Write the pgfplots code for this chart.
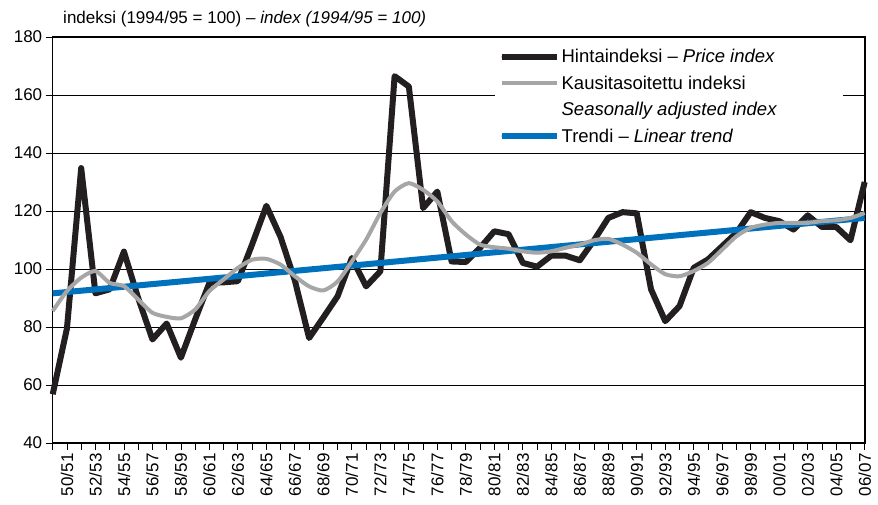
\documentclass[border=0pt]{standalone}
\usepackage{fontspec}
\setmainfont{Liberation Sans}
\usepackage{pgfplots}
\pgfplotsset{compat=1.18}
\definecolor{cblack}{HTML}{231F20}
\definecolor{cgray}{HTML}{A6A6A6}
\definecolor{cblue}{HTML}{0071BC}
\newcommand{\fs}{\fontsize{17}{20}\selectfont}
\newcommand{\fl}{\fontsize{18.5}{21.5}\selectfont}
\pgfplotstableread{
i price sa
0 56.8 85.5
1 79.5 92.4
2 134.8 97
3 91.6 99.3
4 93 95.2
5 106 94.1
6 90 89.5
7 75.7 84.9
8 81.2 83.5
9 69.4 83
10 82.6 86
11 95.2 92.4
12 95.4 96.4
13 95.8 100.4
14 108.5 103.2
15 121.8 103.5
16 111 101.5
17 96 97.5
18 76.2 94
19 83.3 92.6
20 90.6 95.7
21 103.8 102.6
22 94 110.1
23 99.2 119.3
24 166.5 126.7
25 162.9 129.6
26 121 127.3
27 126.7 123.3
28 102.6 116.5
29 102.4 111.9
30 107.3 108.4
31 113 107.5
32 112 107
33 102.1 106.1
34 100.8 105.6
35 104.6 106.1
36 104.6 107.3
37 103 108.4
38 109.9 109.9
39 117.6 110.4
40 119.6 108.4
41 119.2 105.6
42 93 101.6
43 82 98.2
44 87.2 97.5
45 100.4 99.3
46 103.3 102.1
47 107.9 106.7
48 112.5 111.3
49 119.6 114.2
50 117.6 115.3
51 116.5 115.9
52 113.6 115.9
53 118.5 115.9
54 114.5 116.5
55 114.5 116.8
56 109.9 117.6
57 130 119.3
}\datatable
\begin{document}
\begin{tikzpicture}
\begin{axis}[
  name=ax,
  scale only axis, width=812pt, height=406pt,
  xmin=0, xmax=57, ymin=40, ymax=180,
  ytick={40,60,...,180},
  xtick={1,3,...,57},
  minor xtick={0,2,...,56},
  xticklabels={50/51,52/53,54/55,56/57,58/59,60/61,62/63,64/65,66/67,68/69,70/71,72/73,74/75,76/77,78/79,80/81,82/83,84/85,86/87,88/89,90/91,92/93,94/95,96/97,98/99,00/01,02/03,04/05,06/07},
  x tick label style={rotate=90, anchor=east, font=\fs},
  y tick label style={font=\fs},
  /pgf/number format/assume math mode=true,
  tick align=outside, major tick length=7pt, minor tick length=7pt,
  xtick pos=bottom, ytick pos=left,
  ymajorgrids, grid style={black, line width=0.8pt},
  axis line style={line width=1.6pt},
  tick style={black, line width=0.8pt},
  clip=false,
  legend style={at={(0.544,1)}, yshift=-4pt, anchor=north west, draw=none, fill=white,
    font=\fl, row sep=7.6pt, inner xsep=4pt, inner ysep=6pt},
  legend cell align=left,
  legend image code/.code={\draw[#1, line cap=round] (3pt,0pt) -- (52pt,0pt); \path (0pt,0pt) -- (55pt,0pt);},
]
\addlegendimage{cblack, line width=6pt}
\addlegendentry{Hintaindeksi – \textit{Price index}}
\addlegendimage{cgray, line width=4pt}
\addlegendentry{Kausitasoitettu indeksi}
\addlegendimage{empty legend}
\addlegendentry{\textit{Seasonally adjusted index}\hspace*{60pt}}
\addlegendimage{cblue, line width=6pt}
\addlegendentry{Trendi – \textit{Linear trend}}
\addplot[forget plot, cblack, line width=6pt, line join=round] table[x=i, y=price] {\datatable};
\addplot[forget plot, cblue, line width=6pt] coordinates {(0,91.6) (57,117.6)};
\addplot[forget plot, cgray, line width=4pt, smooth, tension=0.4] table[x=i, y=sa] {\datatable};
\end{axis}
\node[anchor=base west, font=\fs] at ([shift={(7pt,13pt)}]ax.north west) {indeksi (1994/95 = 100) – \textit{index (1994/95 = 100)}};
\pgfresetboundingbox
\path[use as bounding box] ([shift={(-52.7pt,-62pt)}]ax.south west) rectangle ([shift={(13.3pt,37pt)}]ax.north east);
\end{tikzpicture}
\end{document}
